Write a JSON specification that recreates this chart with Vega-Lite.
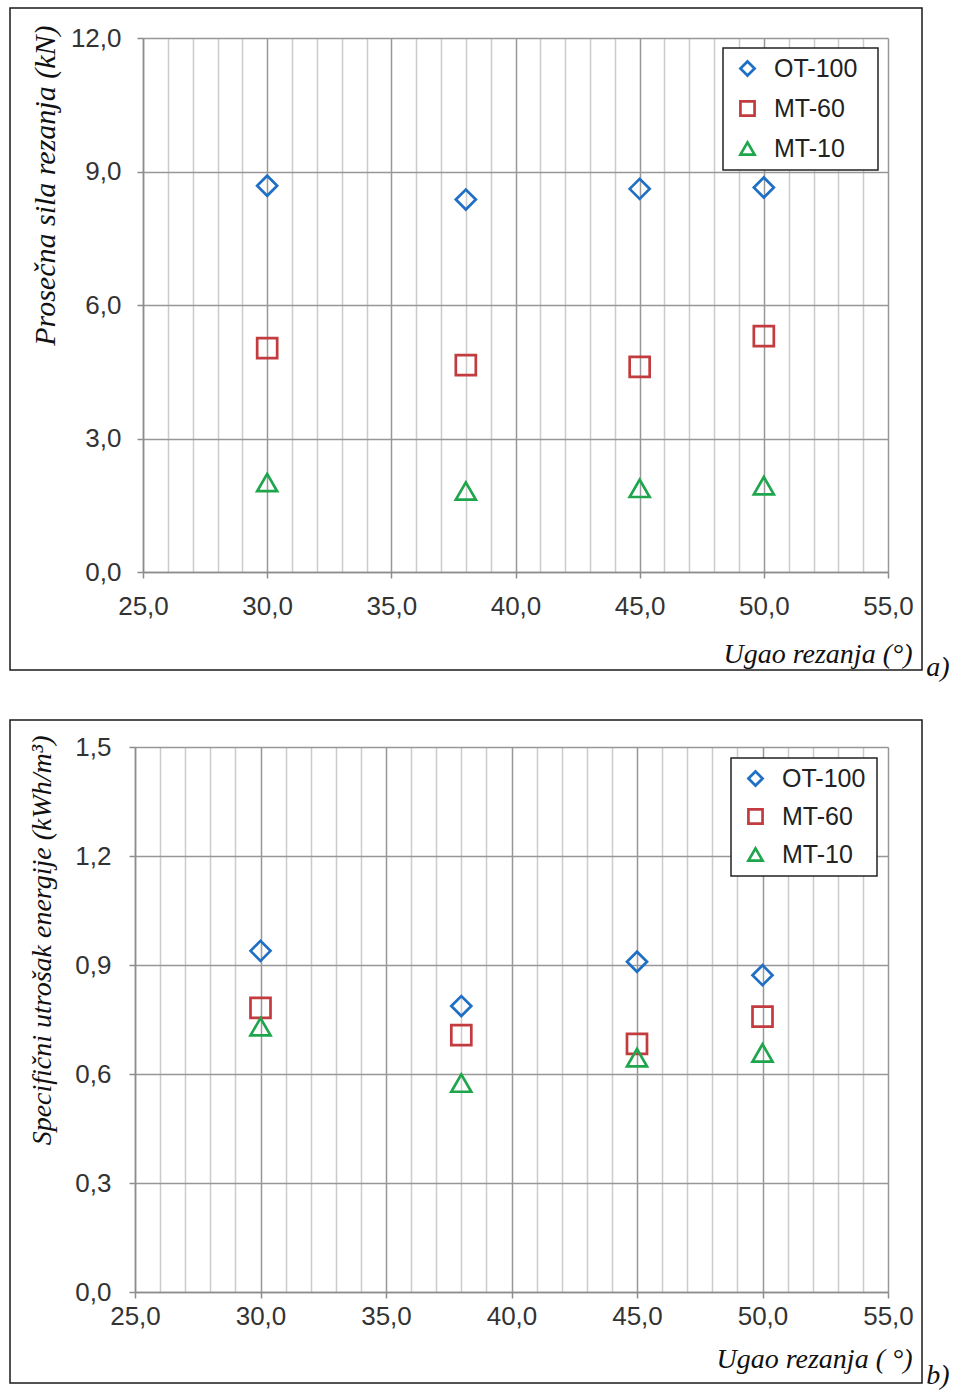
{
  "$schema": "https://vega.github.io/schema/vega-lite/v6.json",
  "padding": {"left": 9, "top": 7, "right": 0, "bottom": 0},
  "background": "white",
  "datasets": {
    "a": [
      {"angle": 30, "value": 8.68, "series": "OT-100"},
      {"angle": 38, "value": 8.37, "series": "OT-100"},
      {"angle": 45, "value": 8.61, "series": "OT-100"},
      {"angle": 50, "value": 8.64, "series": "OT-100"},
      {"angle": 30, "value": 5.03, "series": "MT-60"},
      {"angle": 38, "value": 4.65, "series": "MT-60"},
      {"angle": 45, "value": 4.61, "series": "MT-60"},
      {"angle": 50, "value": 5.30, "series": "MT-60"},
      {"angle": 30, "value": 2.01, "series": "MT-10"},
      {"angle": 38, "value": 1.82, "series": "MT-10"},
      {"angle": 45, "value": 1.88, "series": "MT-10"},
      {"angle": 50, "value": 1.94, "series": "MT-10"}
    ],
    "b": [
      {"angle": 30, "value": 0.939, "series": "OT-100"},
      {"angle": 38, "value": 0.787, "series": "OT-100"},
      {"angle": 45, "value": 0.909, "series": "OT-100"},
      {"angle": 50, "value": 0.872, "series": "OT-100"},
      {"angle": 30, "value": 0.782, "series": "MT-60"},
      {"angle": 38, "value": 0.707, "series": "MT-60"},
      {"angle": 45, "value": 0.683, "series": "MT-60"},
      {"angle": 50, "value": 0.758, "series": "MT-60"},
      {"angle": 30, "value": 0.730, "series": "MT-10"},
      {"angle": 38, "value": 0.575, "series": "MT-10"},
      {"angle": 45, "value": 0.645, "series": "MT-10"},
      {"angle": 50, "value": 0.658, "series": "MT-10"}
    ]
  },
  "vconcat": [
    {
      "width": 912,
      "height": 662,
      "data": {"name": "a"},
      "title": {"text": "a)", "orient": "right", "anchor": "end", "angle": 0, "align": "left", "baseline": "alphabetic", "offset": -19, "dy": 6, "font": "Liberation Serif", "fontStyle": "italic", "fontWeight": "normal", "fontSize": 28, "color": "#111"},
      "layer": [
        {
          "mark": {"type": "point", "opacity": 0},
          "encoding": {
            "x": {"field": "angle", "type": "quantitative",
              "scale": {"domain": [25, 55], "range": [133, 878], "nice": false, "zero": false},
              "axis": {"orient": "top", "values": [25,26,27,28,29,30,31,32,33,34,35,36,37,38,39,40,41,42,43,44,45,46,47,48,49,50,51,52,53,54,55],
                "grid": true, "gridColor": {"condition": {"test": "datum.value % 5 === 0", "value": "#979797"}, "value": "#cbcbcb"},
                "gridWidth": 1.5, "labels": false, "ticks": false, "domain": false, "title": null}},
            "y": {"field": "value", "type": "quantitative",
              "scale": {"domain": [0, 12], "range": [564, 30], "nice": false, "zero": false},
              "axis": {"orient": "left", "offset": -133, "values": [0, 3, 6, 9, 12],
                "grid": true, "gridColor": "#979797", "gridWidth": 1.5,
                "labelExpr": "replace(format(datum.value, '.1f'), '.', ',')", "labelPadding": 16,
                "title": "Prosečna sila rezanja (kN)", "titleFontSize": 30, "titleX": -98, "titleY": 17, "titleAngle": -90, "titleAlign": "right", "titleBaseline": "middle"}}
          }
        },
        {
          "mark": {"type": "point", "filled": false, "strokeWidth": 2.7, "size": 400, "opacity": 1},
          "encoding": {
            "x": {"field": "angle", "type": "quantitative",
              "axis": {"orient": "bottom", "offset": -98, "values": [25, 30, 35, 40, 45, 50, 55], "grid": false,
                "labelExpr": "replace(format(datum.value, '.1f'), '.', ',')", "labelPadding": 15,
                "title": "Ugao rezanja (°)", "titleX": 902, "titleY": 90, "titleAlign": "right", "titleBaseline": "alphabetic", "titleAngle": 0}},
            "y": {"field": "value", "type": "quantitative", "axis": null},
            "color": {"field": "series", "type": "nominal",
              "scale": {"domain": ["OT-100", "MT-60", "MT-10"], "range": ["#1f6fc5", "#c23b3f", "#1fa64d"]},
              "legend": {"orient": "none", "legendX": 713, "legendY": 40, "title": " ", "titleOrient": "right", "titleFontSize": 2, "titlePadding": 13, "rowPadding": 14}},
            "shape": {"field": "series", "type": "nominal",
              "scale": {"domain": ["OT-100", "MT-60", "MT-10"], "range": ["diamond", "square", "triangle-up"]},
              "legend": {"orient": "none", "legendX": 713, "legendY": 40, "title": " ", "titleOrient": "right", "titleFontSize": 2, "titlePadding": 13, "rowPadding": 14}}
          }
        }
      ],
      "resolve": {"axis": {"x": "independent", "y": "independent"}}
    },
    {
      "width": 912,
      "height": 663,
      "data": {"name": "b"},
      "title": {"text": "b)", "orient": "right", "anchor": "end", "angle": 0, "align": "left", "baseline": "alphabetic", "offset": -19, "dy": 1, "font": "Liberation Serif", "fontStyle": "italic", "fontWeight": "normal", "fontSize": 28, "color": "#111"},
      "layer": [
        {
          "mark": {"type": "point", "opacity": 0},
          "encoding": {
            "x": {"field": "angle", "type": "quantitative",
              "scale": {"domain": [25, 55], "range": [125, 878], "nice": false, "zero": false},
              "axis": {"orient": "top", "values": [25,26,27,28,29,30,31,32,33,34,35,36,37,38,39,40,41,42,43,44,45,46,47,48,49,50,51,52,53,54,55],
                "grid": true, "gridColor": {"condition": {"test": "datum.value % 5 === 0", "value": "#979797"}, "value": "#cbcbcb"},
                "gridWidth": 1.5, "labels": false, "ticks": false, "domain": false, "title": null}},
            "y": {"field": "value", "type": "quantitative",
              "scale": {"domain": [0, 1.5], "range": [572, 27], "nice": false, "zero": false},
              "axis": {"orient": "left", "offset": -125, "values": [0, 0.3, 0.6, 0.9, 1.2, 1.5],
                "grid": true, "gridColor": "#979797", "gridWidth": 1.5,
                "labelExpr": "replace(format(datum.value, '.1f'), '.', ',')", "labelPadding": 18,
                "title": "Specifični utrošak energije  (kWh/m³)", "titleX": -93, "titleY": 15, "titleAngle": -90, "titleAlign": "right", "titleBaseline": "middle"}}
          }
        },
        {
          "mark": {"type": "point", "filled": false, "strokeWidth": 2.7, "size": 400, "opacity": 1},
          "encoding": {
            "x": {"field": "angle", "type": "quantitative",
              "axis": {"orient": "bottom", "offset": -91, "values": [25, 30, 35, 40, 45, 50, 55], "grid": false,
                "labelExpr": "replace(format(datum.value, '.1f'), '.', ',')", "labelPadding": 5,
                "title": "Ugao rezanja ( °)", "titleX": 902, "titleY": 75, "titleAlign": "right", "titleBaseline": "alphabetic", "titleAngle": 0}},
            "y": {"field": "value", "type": "quantitative", "axis": null},
            "color": {"field": "series", "type": "nominal",
              "scale": {"domain": ["OT-100", "MT-60", "MT-10"], "range": ["#1f6fc5", "#c23b3f", "#1fa64d"]},
              "legend": {"orient": "none", "legendX": 721, "legendY": 38, "title": " ", "titleOrient": "right", "titleFontSize": 2, "titlePadding": 4, "rowPadding": 12}},
            "shape": {"field": "series", "type": "nominal",
              "scale": {"domain": ["OT-100", "MT-60", "MT-10"], "range": ["diamond", "square", "triangle-up"]},
              "legend": {"orient": "none", "legendX": 721, "legendY": 38, "title": " ", "titleOrient": "right", "titleFontSize": 2, "titlePadding": 4, "rowPadding": 12}}
          }
        }
      ],
      "resolve": {"axis": {"x": "independent", "y": "independent"}}
    }
  ],
  "spacing": 50,
  "bounds": "flush",
  "resolve": {"scale": {"color": "independent", "shape": "independent"}},
  "config": {
    "view": {"stroke": "#1a1a1a", "strokeWidth": 1.5, "fill": "white"},
    "axis": {
      "labelFont": "Liberation Sans", "labelFontSize": 26, "labelColor": "#333333", "labelFlush": false,
      "domainColor": "#8c8c8c", "domainWidth": 1.5, "tickColor": "#8c8c8c", "tickWidth": 1.5, "tickSize": 6,
      "titleFont": "Liberation Serif", "titleFontStyle": "italic", "titleFontWeight": "normal", "titleFontSize": 28, "titleColor": "#111111",
      "labelOverlap": false
    },
    "legend": {
      "strokeColor": "#222222", "strokeWidth": 1.5, "fillColor": "white", "padding": 8, "symbolOffset": 4,
      "labelOffset": 14, "symbolSize": 200, "symbolStrokeWidth": 2.7,
      "labelFont": "Liberation Sans", "labelFontSize": 25, "labelColor": "#222222"
    }
  }
}
